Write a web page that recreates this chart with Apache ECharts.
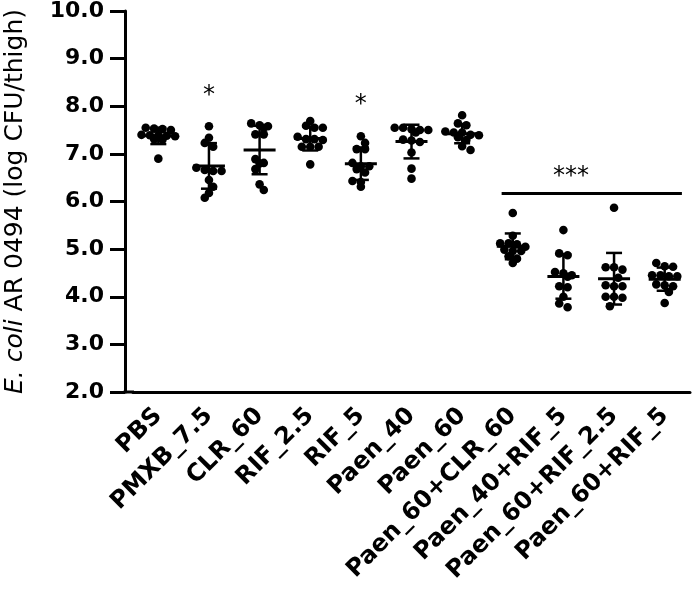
<!DOCTYPE html>
<html><head><meta charset="utf-8">
<script src="https://cdn.jsdelivr.net/npm/echarts@6/dist/echarts.min.js"></script>
<style>html,body{margin:0;padding:0;background:#fff}#c{width:700px;height:605px}</style>
</head><body><div id="c"></div>
<script>
const categories = ['PBS','PMXB_7.5','CLR_60','RIF_2.5','RIF_5','Paen_40','Paen_60','Paen_60+CLR_60','Paen_40+RIF_5','Paen_60+RIF_2.5','Paen_60+RIF_5'];
const pbs       = [7.55, 7.53, 7.52, 7.50, 7.40, 7.39, 7.39, 7.38, 7.37, 7.31, 7.30, 6.90];
const pmxb75    = [7.58, 7.34, 7.23, 7.15, 6.64, 6.66, 6.64, 6.71, 6.45, 6.31, 6.18, 6.08];
const clr60     = [7.60, 7.64, 7.58, 7.55, 7.41, 7.41, 6.80, 6.68, 6.81, 6.89, 6.24, 6.36];
const rif25     = [7.69, 7.55, 7.55, 7.59, 7.31, 7.31, 7.15, 7.15, 7.15, 6.78, 7.36, 7.29];
const rif5      = [7.37, 7.23, 7.10, 7.10, 6.74, 6.74, 6.81, 6.68, 6.61, 6.43, 6.41, 6.31];
const paen40    = [7.50, 7.55, 7.52, 7.50, 7.55, 7.45, 7.30, 7.28, 7.25, 7.03, 6.69, 6.48];
const paen60    = [7.81, 7.64, 7.60, 7.40, 7.45, 7.45, 7.47, 7.39, 7.35, 7.29, 7.16, 7.08];
const paen60clr = [5.76, 5.28, 5.12, 5.12, 5.10, 5.05, 4.99, 4.96, 4.96, 4.85, 4.80, 4.71];
const paen40rif5  = [5.40, 4.91, 4.87, 4.52, 4.49, 4.45, 4.42, 4.22, 4.20, 4.00, 3.86, 3.78];
const paen60rif25 = [5.87, 4.62, 4.62, 4.57, 4.40, 4.22, 4.22, 4.24, 4.00, 4.00, 3.98, 3.80];
const paen60rif5  = [4.71, 4.64, 4.63, 4.45, 4.43, 4.45, 4.43, 4.24, 4.26, 4.22, 4.10, 3.87];
const groups = [pbs, pmxb75, clr60, rif25, rif5, paen40, paen60, paen60clr, paen40rif5, paen60rif25, paen60rif5];

const yMin = 2, yMax = 10, yStep = 1;
const yTitleItalic = 'E. coli';
const yTitleRest = ' AR 0494 (log CFU/thigh)';
// significance annotations: [category index, y value, text]
const sigStars = [[1, 8.22, '*'], [4, 8.04, '*']];
const sigBracket = { from: 7, to: 10, y: 6.17, textY: 6.52, text: '***' };

const DOT_R = 4.3, ROW_H = 4, COL_SP = 8.4, DOT_D = 8.6;

function mean(a){ return a.reduce((s,v)=>s+v,0)/a.length; }
function sd(a){ const m=mean(a); return Math.sqrt(a.reduce((s,v)=>s+(v-m)*(v-m),0)/(a.length-1)); }

// Prism-like scatter-dot layout: bin into rows, centre each row, stagger touching rows
function layout(pys){
  const order = pys.map((y,i)=>i).sort((a,b)=>pys[a]-pys[b]);
  const rows = [];
  for (const i of order){
    const last = rows[rows.length-1];
    if (last && pys[i] - last.y0 <= ROW_H) { last.idx.push(i); last.yl = pys[i]; }
    else rows.push({ y0: pys[i], yl: pys[i], idx: [i] });
  }
  const off = new Array(pys.length);
  let prev = null, flip = 1;
  for (const r of rows){
    const n = r.idx.length;
    let shift = 0;
    if (prev && (r.y0 - prev.yl) < DOT_D && (n % 2) === (prev.n % 2)) {
      shift = prev.shift !== 0 ? 0 : flip * COL_SP / 2;
      if (shift !== 0) flip = -flip;
    }
    r.idx.forEach((i, j) => { off[i] = (j - (n - 1) / 2) * COL_SP + shift; });
    r.n = n; r.shift = shift; prev = r;
  }
  return off;
}
const layoutCache = {};
function offsets(g, api){
  if (!layoutCache[g]) layoutCache[g] = layout(groups[g].map(v => api.coord([g, v])[1]));
  return layoutCache[g];
}

const dotData = [];
groups.forEach((arr, g) => arr.forEach((v, k) => dotData.push([g, v, k])));
const statData = groups.map((arr, g) => [g, mean(arr), sd(arr)]);

const chart = echarts.init(document.getElementById('c'), null, {renderer:'canvas'});
chart.setOption({
  animation: false,
  backgroundColor: '#fff',
  grid: { left: 133, right: 10, top: 11, bottom: 213, containLabel: false, outerBoundsMode: 'none' },
  xAxis: {
    type: 'category', data: categories, boundaryGap: true,
    axisLine: { lineStyle: { color: '#000', width: 3 } },
    axisTick: { alignWithLabel: true, length: 16, lineStyle: { color: '#000', width: 3 } },
    axisLabel: { interval: 0, rotate: 45, margin: 20, color: '#000', fontFamily: 'DejaVu Sans', fontWeight: 'bold', fontSize: 24 }
  },
  yAxis: {
    type: 'value', min: yMin, max: yMax, interval: yStep, offset: 8,
    axisLine: { show: true, lineStyle: { color: '#000', width: 3 } },
    axisTick: { show: true, length: 15, lineStyle: { color: '#000', width: 3 } },
    splitLine: { show: false },
    axisLabel: { margin: 21, color: '#000', fontFamily: 'DejaVu Sans', fontWeight: 'bold', fontSize: 22, formatter: v => v.toFixed(1) },
    name: '{i|' + yTitleItalic + '}' + yTitleRest,
    nameLocation: 'middle', nameGap: 97,
    nameTextStyle: { color: '#000', fontFamily: 'DejaVu Sans', fontSize: 25,
      rich: { i: { fontStyle: 'italic', fontFamily: 'DejaVu Sans', fontSize: 25, color: '#000' } } }
  },
  series: [
    {
      type: 'custom', name: 'dots', data: dotData, z: 2,
      renderItem: (params, api) => {
        const g = api.value(0), v = api.value(1), k = api.value(2);
        const off = offsets(g, api);
        const p = api.coord([g, v]);
        return { type: 'circle', shape: { cx: p[0] + off[k], cy: p[1], r: DOT_R }, style: { fill: '#000' } };
      }
    },
    {
      type: 'custom', name: 'meanSD', data: statData, z: 3,
      renderItem: (params, api) => {
        const g = api.value(0), m = api.value(1), s = api.value(2);
        const pm = api.coord([g, m]), pt = api.coord([g, m + s]), pb = api.coord([g, m - s]);
        const x = pm[0];
        const st = { stroke: '#000', lineWidth: 2.5 };
        return { type: 'group', children: [
          { type: 'line', shape: { x1: x - 16, y1: pm[1], x2: x + 16, y2: pm[1] }, style: { stroke: '#000', lineWidth: 3 } },
          { type: 'line', shape: { x1: x, y1: pt[1], x2: x, y2: pb[1] }, style: st },
          { type: 'line', shape: { x1: x - 8, y1: pt[1], x2: x + 8, y2: pt[1] }, style: st },
          { type: 'line', shape: { x1: x - 8, y1: pb[1], x2: x + 8, y2: pb[1] }, style: st }
        ]};
      }
    },
    {
      type: 'custom', name: 'stars', data: sigStars, z: 4,
      renderItem: (params, api) => {
        const p = api.coord([api.value(0), api.value(1)]);
        return { type: 'text', style: { x: p[0], y: p[1], text: sigStars[params.dataIndex][2], fill: '#000',
          font: '24px "DejaVu Sans"', textAlign: 'center', textVerticalAlign: 'middle' } };
      }
    },
    {
      type: 'custom', name: 'bracket', data: [[sigBracket.from, sigBracket.y]], z: 4,
      renderItem: (params, api) => {
        const bw = api.size([1, 0])[0];
        const a = api.coord([sigBracket.from, sigBracket.y]);
        const b = api.coord([sigBracket.to, sigBracket.y]);
        const t = api.coord([sigBracket.from + 1, sigBracket.textY]);
        return { type: 'group', children: [
          { type: 'line', shape: { x1: a[0] - 0.22 * bw, y1: a[1], x2: b[0] + 0.34 * bw, y2: b[1] }, style: { stroke: '#000', lineWidth: 3 } },
          { type: 'text', style: { x: t[0] + 0.15 * bw, y: t[1], text: sigBracket.text, fill: '#000',
            font: '24px "DejaVu Sans"', textAlign: 'center', textVerticalAlign: 'middle' } }
        ]};
      }
    }
  ]
});
// join x axis line to the offset y axis at the corner
const corner = chart.convertToPixel({ gridIndex: 0 }, [0, yMin]);
const gridLeft = chart.getModel().getComponent('grid').coordinateSystem.getRect().x;
chart.setOption({ graphic: [{ type: 'line', shape: { x1: gridLeft - 9.5, y1: corner[1], x2: gridLeft + 1, y2: corner[1] }, style: { stroke: '#000', lineWidth: 3 }, z: 10 }] });
</script></body></html>
